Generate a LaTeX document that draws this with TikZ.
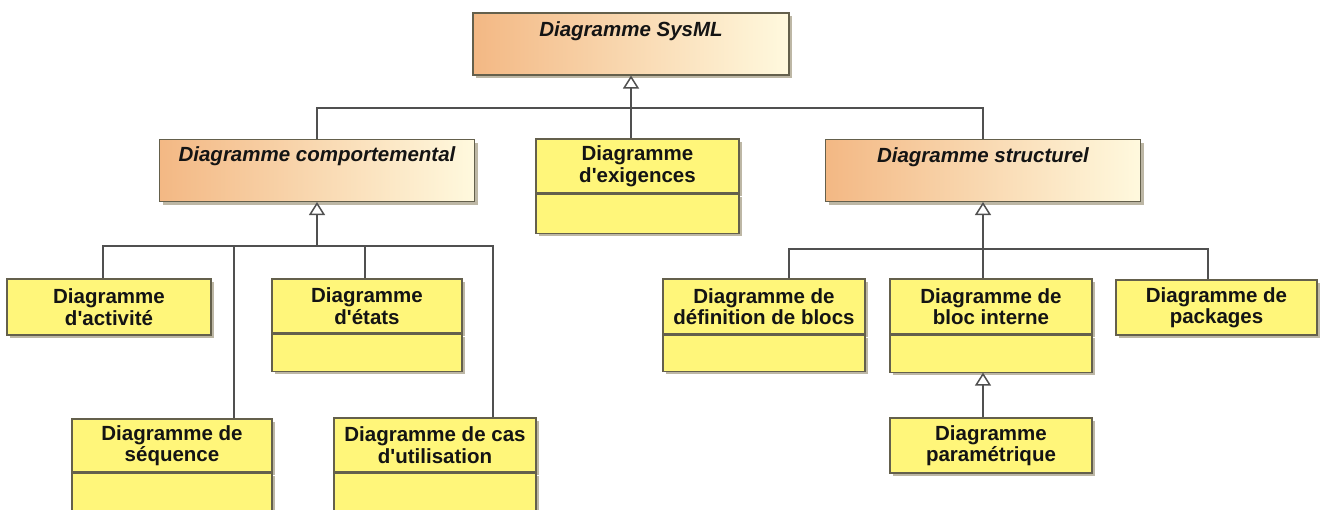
\documentclass[tikz,border=0pt]{standalone}
\usepackage{fontspec}
\setmainfont{Liberation Sans}
\usetikzlibrary{arrows.meta,shadows}
\definecolor{yfill}{RGB}{255,246,122}
\definecolor{oleft}{RGB}{243,184,132}
\definecolor{oright}{RGB}{255,249,222}
\definecolor{boxline}{RGB}{100,96,76}
\definecolor{wire}{RGB}{80,80,80}
\definecolor{shade}{RGB}{145,135,105}
\definecolor{ink}{RGB}{20,20,20}
\newcommand{\apos}{\textquotesingle}
\tikzset{
  boxbase/.style={draw=boxline, line width=1.1pt, inner sep=0pt,
    drop shadow={shadow xshift=3pt, shadow yshift=-3pt, fill=shade, opacity=0.6}},
  ybox/.style={boxbase, fill=yfill, align=center, text=ink,
    font=\bfseries\fontsize{20.5}{21.5}\selectfont},
  obox/.style={boxbase, left color=oleft, right color=oright},
  otitle/.style={inner sep=0pt, text=ink, font=\bfseries\itshape\fontsize{20.5}{22}\selectfont},
  wireline/.style={draw=wire, line width=1.5pt},
  gen/.style={wireline, -{Triangle[open, length=13pt, width=16pt]}},
}
\begin{document}
\begin{tikzpicture}[x=1pt, y=-1pt]
\useasboundingbox (0,0) rectangle (1325,509);
\fill[white] (0,0) rectangle (1325,509);
\clip (0,0) rectangle (1325,509);

% abstract diagram kinds (gradient boxes)
\node[obox, minimum width=316pt, minimum height=62pt] (sysml) at (631,44) {};
\node[otitle, anchor=base] (sysml-t) at ([yshift=-24pt]sysml.north) {Diagramme SysML};

\node[obox, minimum width=315pt, minimum height=62pt] (comp) at (317,170.5) {};
\node[otitle, anchor=base] (comp-t) at ([yshift=-23pt]comp.north) {Diagramme comportemental};

\node[obox, minimum width=315pt, minimum height=62pt] (struct) at (983,170.5) {};
\node[otitle, anchor=base] (struct-t) at ([yshift=-24pt]struct.north) {Diagramme structurel};

% requirements
\node[ybox, minimum width=203pt, minimum height=54pt] (exig) at (637.5,166) {Diagramme\\d\apos exigences};
\node[ybox, minimum width=203pt, minimum height=39pt, anchor=north] (exig-b) at (exig.south) {};

% behavioural diagrams
\node[ybox, minimum width=204pt, minimum height=56pt] (act) at (109,307) {Diagramme\\d\apos activité};

\node[ybox, minimum width=190pt, minimum height=54pt] (etats) at (367,306) {Diagramme\\d\apos états};
\node[ybox, minimum width=190pt, minimum height=37pt, anchor=north] (etats-b) at (etats.south) {};

\node[ybox, minimum width=200pt, minimum height=53pt] (seq) at (172,445.5) {Diagramme de\\séquence};
\node[ybox, minimum width=200pt, minimum height=45pt, anchor=north] (seq-b) at (seq.south) {};

\node[ybox, minimum width=202pt, minimum height=54pt] (cas) at (435,445) {Diagramme de cas\\d\apos utilisation};
\node[ybox, minimum width=202pt, minimum height=45pt, anchor=north] (cas-b) at (cas.south) {};

% structural diagrams
\node[ybox, minimum width=202pt, minimum height=55pt] (def) at (764,306.5) {Diagramme de\\définition de blocs};
\node[ybox, minimum width=202pt, minimum height=36pt, anchor=north] (def-b) at (def.south) {};

\node[ybox, minimum width=202pt, minimum height=55pt] (bloc) at (991,306.5) {Diagramme de\\bloc interne};
\node[ybox, minimum width=202pt, minimum height=37pt, anchor=north] (bloc-b) at (bloc.south) {};

\node[ybox, minimum width=201pt, minimum height=55pt] (pkg) at (1216.5,307.5) {Diagramme de\\packages};

\node[ybox, minimum width=202pt, minimum height=55pt] (param) at (991,445.5) {Diagramme\\paramétrique};

% generalisation trees
\coordinate (top-bus) at (631,108);
\coordinate (left-bus) at (317,246);
\coordinate (right-bus) at (983,249);

\draw[wireline] (comp.north) |- (top-bus);
\draw[wireline] (struct.north) |- (top-bus);
\draw[gen] (exig.north -| sysml.south) -- (sysml.south);

\draw[wireline] ([xshift=-6pt]act.north) |- (left-bus);
\draw[wireline] ([xshift=62pt]seq.north) |- (left-bus);
\draw[wireline] ([xshift=-2pt]etats.north) |- (left-bus);
\draw[wireline] ([xshift=58pt]cas.north) |- (left-bus);
\draw[gen] (left-bus) -- (comp.south);

\draw[wireline] ([xshift=25pt]def.north) |- (right-bus);
\draw[wireline] ([xshift=-8pt]bloc.north) |- (right-bus);
\draw[wireline] ([xshift=-8.5pt]pkg.north) |- (right-bus);
\draw[gen] (right-bus) -- (struct.south);

\draw[gen] ([xshift=-8pt]param.north) -- ([xshift=-8pt]bloc-b.south);
\end{tikzpicture}
\end{document}
